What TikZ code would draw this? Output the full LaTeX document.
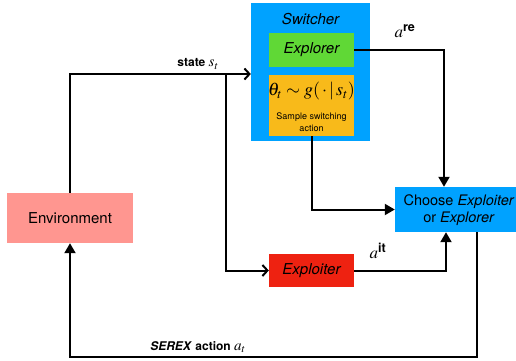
\documentclass[tikz,border=0pt]{standalone}
\usepackage{amsmath}
\usepackage{mathptmx}
\usepackage{fontspec}
\setmainfont{TeX Gyre Heros}
\usetikzlibrary{arrows.meta}
\definecolor{swblue}{RGB}{0,162,255}
\definecolor{exgreen}{RGB}{96,216,54}
\definecolor{orng}{RGB}{248,186,26}
\definecolor{envpink}{RGB}{255,150,144}
\definecolor{exred}{RGB}{238,34,17}
\tikzset{
  box/.style={draw=none, rectangle, inner sep=0pt, align=center, font=\fontsize{15}{18}\selectfont},
  conn/.style={line width=2pt, draw=black},
  tri/.style={conn, -{Triangle[length=10pt,width=11pt]}},
  barb/.style={conn, -{Straight Barb[length=5pt,width=11pt,line width=2pt]}},
  lbl/.style={font=\fontsize{12}{14}\selectfont\bfseries, inner sep=0pt}
}
\begin{document}
\begin{tikzpicture}[x=1pt,y=-1pt]
\useasboundingbox (0,0) rectangle (516,360);
% boxes
\node[box, fill=swblue, minimum width=119pt, minimum height=138pt] (sw) at (310.5,72) {};
\node[box, font=\fontsize{15}{18}\selectfont\itshape] (swtitle) at (310.5,19) {Switcher};
\node[box, fill=exgreen, minimum width=85pt, minimum height=34pt, font=\fontsize{15}{18}\selectfont\itshape] (explorer) at (311.5,50) {Explorer};
\node[box, fill=orng, minimum width=85pt, minimum height=61pt] (orange) at (311.5,105.5) {};
\node[box, font=\fontsize{18}{18}\selectfont] (math) at (311.5,91) {$\theta_t \sim g(\,\cdot\,|\, s_t)$};
\node[box, font=\fontsize{9}{12}\selectfont] (sample) at (311.5,122) {Sample switching\\action};
\node[box, fill=swblue, minimum width=121pt, minimum height=45pt] (choose) at (455.5,209.5) {};
\node[box, font=\fontsize{14.5}{17}\selectfont] (choosetxt) at (459,210) {Choose \textit{Exploiter}\\or \textit{Explorer}};
\node[box, fill=envpink, minimum width=126pt, minimum height=50pt] (env) at (70,218) {Environment};
\node[box, fill=exred, minimum width=85pt, minimum height=33pt, font=\fontsize{15}{18}\selectfont\itshape] (exploiter) at (311.5,270.5) {Exploiter};
% helper coordinates
\coordinate (sy) at (0,74);
\coordinate (br) at (226,74);
\coordinate (ax) at (444,0);
\coordinate (bx) at (446,0);
\coordinate (cx) at (477,0);
\coordinate (by) at (0,357);
% connectors
\draw[barb] (env.north) |- (sw.west |- sy);
\draw[barb] (br) |- (exploiter.west);
\draw[tri] (explorer.east) -| (ax |- choose.north);
\draw[tri] (exploiter.east) -| (bx |- choose.south);
\draw[tri] (orange.south) |- (choose.west);
\draw[tri] (cx |- choose.south) |- (env.south |- by) -- (env.south);
% labels
\node[lbl] (statelbl) at (198,64) {state {\fontsize{15}{15}\selectfont$s_t$}};
\node[lbl, font=\fontsize{17}{18}\selectfont] (arelbl) at (405,31) {$a^{\textbf{re}}$};
\node[lbl, font=\fontsize{17}{18}\selectfont] (aitlbl) at (378,251) {$a^{\textbf{it}}$};
\node[lbl] (serexlbl) at (198,347) {\textit{SEREX} action {\fontsize{15}{15}\selectfont$a_t$}};
\end{tikzpicture}
\end{document}
